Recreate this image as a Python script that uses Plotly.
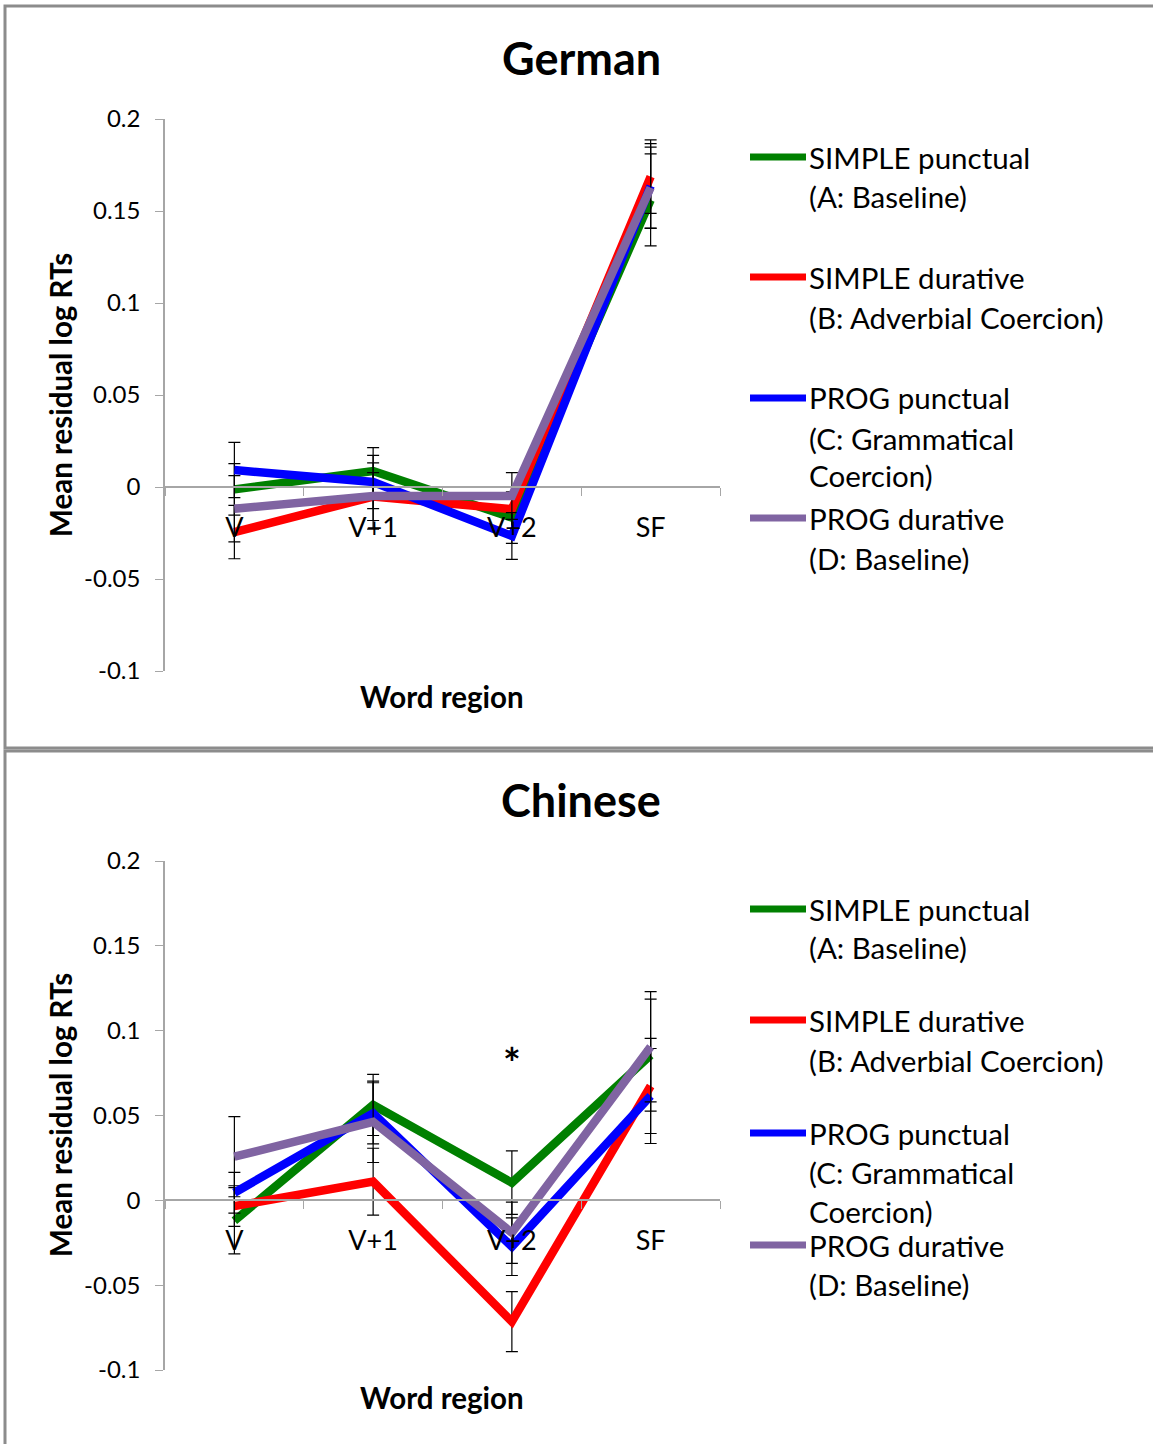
import plotly.graph_objects as go

# ---- data -------------------------------------------------------------
categories = ["V", "V+1", "V+2", "SF"]

series_names = ["SIMPLE punctual", "SIMPLE durative", "PROG punctual", "PROG durative"]
series_sub = ["(A: Baseline)", "(B: Adverbial Coercion)", "(C: Grammatical<br>Coercion)", "(D: Baseline)"]
series_colors = ["#008000", "#FF0000", "#0000FF", "#8064A2"]

# German: mean residual log RTs per word region
de_simple_punctual = [-0.0013, 0.0087, -0.0166, 0.156]
de_simple_durative = [-0.0245, -0.0052, -0.0121, 0.1687]
de_prog_punctual = [0.0092, 0.0027, -0.0266, 0.1636]
de_prog_durative = [-0.0118, -0.0049, -0.0049, 0.1627]

de_err_simple_punctual = [0.014, 0.0127, 0.014, 0.025]
de_err_simple_durative = [0.0145, 0.013, 0.012, 0.020]
de_err_prog_punctual = [0.015, 0.0145, 0.0127, 0.023]
de_err_prog_durative = [0.018, 0.018, 0.0127, 0.022]

# Chinese: mean residual log RTs per word region
zh_simple_punctual = [-0.012, 0.0562, 0.0104, 0.0856]
zh_simple_durative = [-0.0034, 0.011, -0.0715, 0.0674]
zh_prog_punctual = [0.0045, 0.0513, -0.0273, 0.0615]
zh_prog_durative = [0.0257, 0.0463, -0.0191, 0.0905]

zh_err_simple_punctual = [0.0195, 0.018, 0.0187, 0.033]
zh_err_simple_durative = [0.012, 0.0197, 0.0177, 0.028]
zh_err_prog_punctual = [0.012, 0.018, 0.017, 0.028]
zh_err_prog_durative = [0.0236, 0.024, 0.018, 0.0325]

y_ticks = [-0.1, -0.05, 0, 0.05, 0.1, 0.15, 0.2]
y_tick_text = ["-0.1", "-0.05", "0", "0.05", "0.1", "0.15", "0.2"]
y_range = [-0.1, 0.2]

# ---- layout helpers ---------------------------------------------------
W, H = 1153, 1444
FONT = "Lato"
AXIS_GRAY = "#A6A6A6"


def px_x(x):
    return x / W


def px_y(y):
    return 1 - y / H


fig = go.Figure()

panels = [
    dict(title="German", top=119, bottom=671,
         values=[de_simple_punctual, de_simple_durative, de_prog_punctual, de_prog_durative],
         errors=[de_err_simple_punctual, de_err_simple_durative, de_err_prog_punctual, de_err_prog_durative],
         title_y=58, xtitle_y=696, ytitle_y=395,
         legend_rows=[(157, 196, None), (277, 317, None), (398, 438, 476), (518, 558, None)]),
    dict(title="Chinese", top=861, bottom=1370,
         values=[zh_simple_punctual, zh_simple_durative, zh_prog_punctual, zh_prog_durative],
         errors=[zh_err_simple_punctual, zh_err_simple_durative, zh_err_prog_punctual, zh_err_prog_durative],
         title_y=800, xtitle_y=1397, ytitle_y=1115,
         legend_rows=[(909, 948, None), (1020, 1060, None), (1133, 1172, 1211), (1245, 1284, None)]),
]

x_dom = [px_x(165), px_x(720)]
annotations = []
shapes = []

for i, p in enumerate(panels):
    n = "" if i == 0 else str(i + 1)
    xa, ya = "x" + n, "y" + n
    y_dom = [px_y(p["bottom"]), px_y(p["top"])]
    # x axis crosses the y axis at zero
    zero_pos = y_dom[0] + (0 - y_range[0]) / (y_range[1] - y_range[0]) * (y_dom[1] - y_dom[0])

    for vals, errs, color, name in zip(p["values"], p["errors"], series_colors, series_names):
        fig.add_trace(go.Scatter(
            x=categories, y=vals, mode="lines", name=name,
            line=dict(color=color, width=8.5),
            error_y=dict(type="data", array=errs, visible=True,
                         color="black", thickness=1.2, width=6),
            xaxis=xa, yaxis=ya, showlegend=False,
        ))

    fig.layout["xaxis" + n] = dict(
        domain=x_dom, anchor="free", position=zero_pos, automargin=False,
        type="category", categoryorder="array", categoryarray=categories,
        range=[-0.5, 3.5], tickson="boundaries", ticks="outside", ticklen=8,
        tickcolor=AXIS_GRAY, showline=True, linecolor=AXIS_GRAY, linewidth=1.5,
        showgrid=False, zeroline=False,
        tickfont=dict(family=FONT, size=27, color="black"),
        ticklabelstandoff=17,
    )
    fig.layout["yaxis" + n] = dict(
        domain=y_dom, anchor=xa, range=y_range, automargin=False,
        tickvals=y_ticks, ticktext=y_tick_text, ticks="outside", ticklen=8,
        tickcolor=AXIS_GRAY, showline=True, linecolor=AXIS_GRAY, linewidth=1.5,
        showgrid=False, zeroline=False,
        tickfont=dict(family=FONT, size=24, color="black"),
        ticklabelstandoff=10,
    )

    # panel title and axis titles
    annotations.append(dict(text="<b>" + p["title"] + "</b>", xref="paper", yref="paper",
                            x=px_x(581), y=px_y(p["title_y"]), xanchor="center", yanchor="middle",
                            showarrow=False, font=dict(family=FONT, size=45, color="black")))
    annotations.append(dict(text="<b>Word region</b>", xref="paper", yref="paper",
                            x=px_x(442), y=px_y(p["xtitle_y"]), xanchor="center", yanchor="middle",
                            showarrow=False, font=dict(family=FONT, size=29.5, color="black")))
    annotations.append(dict(text="<b>Mean residual log RTs</b>", xref="paper", yref="paper",
                            x=px_x(60), y=px_y(p["ytitle_y"]), xanchor="center", yanchor="middle",
                            textangle=-90, showarrow=False,
                            font=dict(family=FONT, size=29.5, color="black")))

    # hand-placed legend
    for (y1, y2, y3), color, name, sub in zip(p["legend_rows"], series_colors, series_names, series_sub):
        shapes.append(dict(type="line", xref="paper", yref="paper",
                           x0=px_x(750), x1=px_x(806), y0=px_y(y1), y1=px_y(y1),
                           line=dict(color=color, width=7)))
        lines = [name] + sub.split("<br>")
        for txt, yy in zip(lines, [y1, y2, y3]):
            annotations.append(dict(text=txt, xref="paper", yref="paper",
                                    x=px_x(807), y=px_y(yy), xanchor="left", yanchor="middle",
                                    showarrow=False, font=dict(family=FONT, size=29.5, color="black")))

    # panel border
    shapes.append(dict(type="rect", xref="paper", yref="paper",
                       x0=px_x(5), x1=px_x(1170),
                       y0=px_y(748 if i == 0 else 1460), y1=px_y(6 if i == 0 else 751),
                       line=dict(color="#8C8C8C", width=3)))

# significance marker at V+2 in the Chinese panel
annotations.append(dict(text="<b>*</b>", xref="x2", yref="y2", x="V+2", y=0.0856,
                        xanchor="center", yanchor="middle", yshift=-8, showarrow=False,
                        font=dict(family=FONT, size=42, color="black")))

fig.update_layout(
    width=W, height=H, margin=dict(l=0, r=0, t=0, b=0, autoexpand=False),
    paper_bgcolor="white", plot_bgcolor="rgba(0,0,0,0)",
    annotations=annotations, shapes=shapes,
    font=dict(family=FONT, color="black"),
)

fig.write_html("out.html")
